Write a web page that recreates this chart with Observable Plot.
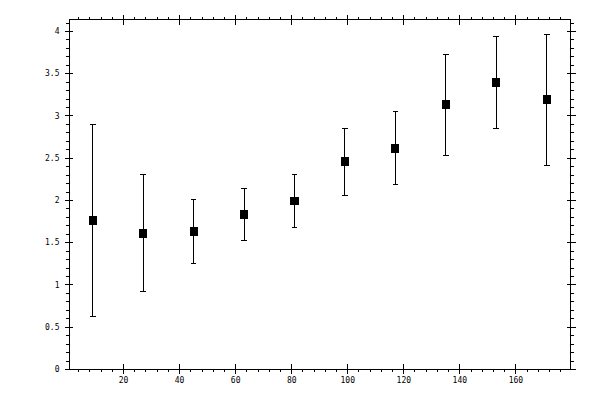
<!DOCTYPE html>
<html>
<head>
<meta charset="utf-8">
<script src="https://cdn.jsdelivr.net/npm/d3@7"></script>
<script src="https://cdn.jsdelivr.net/npm/@observablehq/plot@0.6"></script>
<style>
  html, body { margin: 0; padding: 0; background: #fff; }
  svg { shape-rendering: crispEdges; }
</style>
</head>
<body>
<div id="chart"></div>
<script>
// Data
const xs    = [9, 27, 45, 63, 81, 99, 117, 135, 153, 171];
const means = [1.763, 1.609, 1.633, 1.834, 1.99, 2.462, 2.615, 3.136, 3.396, 3.195];
const lows  = [0.627, 0.923, 1.254, 1.527, 1.684, 2.059, 2.189, 2.533, 2.852, 2.414];
const highs = [2.895, 2.308, 2.012, 2.142, 2.31, 2.847, 3.053, 3.728, 3.941, 3.964];

const xMajor = [20, 40, 60, 80, 100, 120, 140, 160];
const xMinor = d3.range(1, 45).map(i => i * 4);
const yMajor = d3.range(0, 9).map(i => i / 2);
const yMinor = d3.range(0, 42).map(i => i / 10);

const data = xs.map((x, i) => ({x, mean: means[i], low: lows[i], high: highs[i]}));

const capSymbol = {
  draw(ctx, size) {
    const w = Math.sqrt(size) / 2;
    ctx.moveTo(-w, 0);
    ctx.lineTo(w, 0);
  }
};

const font = "DejaVu Sans Mono, monospace";

const chart = Plot.plot({
  width: 600,
  height: 400,
  marginLeft: 69,
  marginRight: 30,
  marginTop: 19,
  marginBottom: 31,
  style: {fontFamily: font, fontSize: "8px", color: "black", background: "white"},
  x: {domain: [0.7, 179.5]},
  y: {domain: [0, 4.142]},
  marks: [
    Plot.frame({stroke: "black", strokeWidth: 1}),
    // minor ticks (outward)
    Plot.axisX(xMinor, {anchor: "bottom", tickSize: 3, tickFormat: () => "", label: null}),
    Plot.axisX(xMinor, {anchor: "top", tickSize: 3, tickFormat: () => "", label: null}),
    Plot.axisY(yMinor, {anchor: "left", tickSize: 3, tickFormat: () => "", label: null}),
    Plot.axisY(yMinor, {anchor: "right", tickSize: 3, tickFormat: () => "", label: null}),
    // major ticks (crossing the frame)
    Plot.axisX(xMajor, {anchor: "bottom", tickSize: 5, tickFormat: () => "", label: null}),
    Plot.axisX(xMajor, {anchor: "bottom", tickSize: -5, tickFormat: () => "", label: null}),
    Plot.axisX(xMajor, {anchor: "top", tickSize: 5, tickFormat: () => "", label: null}),
    Plot.axisX(xMajor, {anchor: "top", tickSize: -5, tickFormat: () => "", label: null}),
    Plot.axisY(yMajor, {anchor: "left", tickSize: 4, tickFormat: () => "", label: null}),
    Plot.axisY(yMajor, {anchor: "left", tickSize: -4, tickFormat: () => "", label: null}),
    Plot.axisY(yMajor, {anchor: "right", tickSize: 5, tickFormat: () => "", label: null}),
    Plot.axisY(yMajor, {anchor: "right", tickSize: -4, tickFormat: () => "", label: null}),
    // labels
    Plot.axisX(xMajor, {anchor: "bottom", tickSize: 0, tickPadding: 8, tickFormat: d => String(d), label: null}),
    Plot.axisY(yMajor, {anchor: "left", tickSize: 0, tickPadding: 10, tickFormat: d => String(d), label: null}),
    // error bars
    Plot.ruleX(data, {x: "x", y1: "low", y2: "high", stroke: "black", strokeWidth: 1}),
    Plot.dot(data, {x: "x", y: "low", symbol: capSymbol, r: 3.2, fill: "none", stroke: "black", strokeWidth: 1}),
    Plot.dot(data, {x: "x", y: "high", symbol: capSymbol, r: 3.2, fill: "none", stroke: "black", strokeWidth: 1}),
    // mean markers
    Plot.dot(data, {x: "x", y: "mean", symbol: "square", r: 4.6, fill: "black", stroke: "none"})
  ]
});

document.getElementById("chart").appendChild(chart);
</script>
</body>
</html>
